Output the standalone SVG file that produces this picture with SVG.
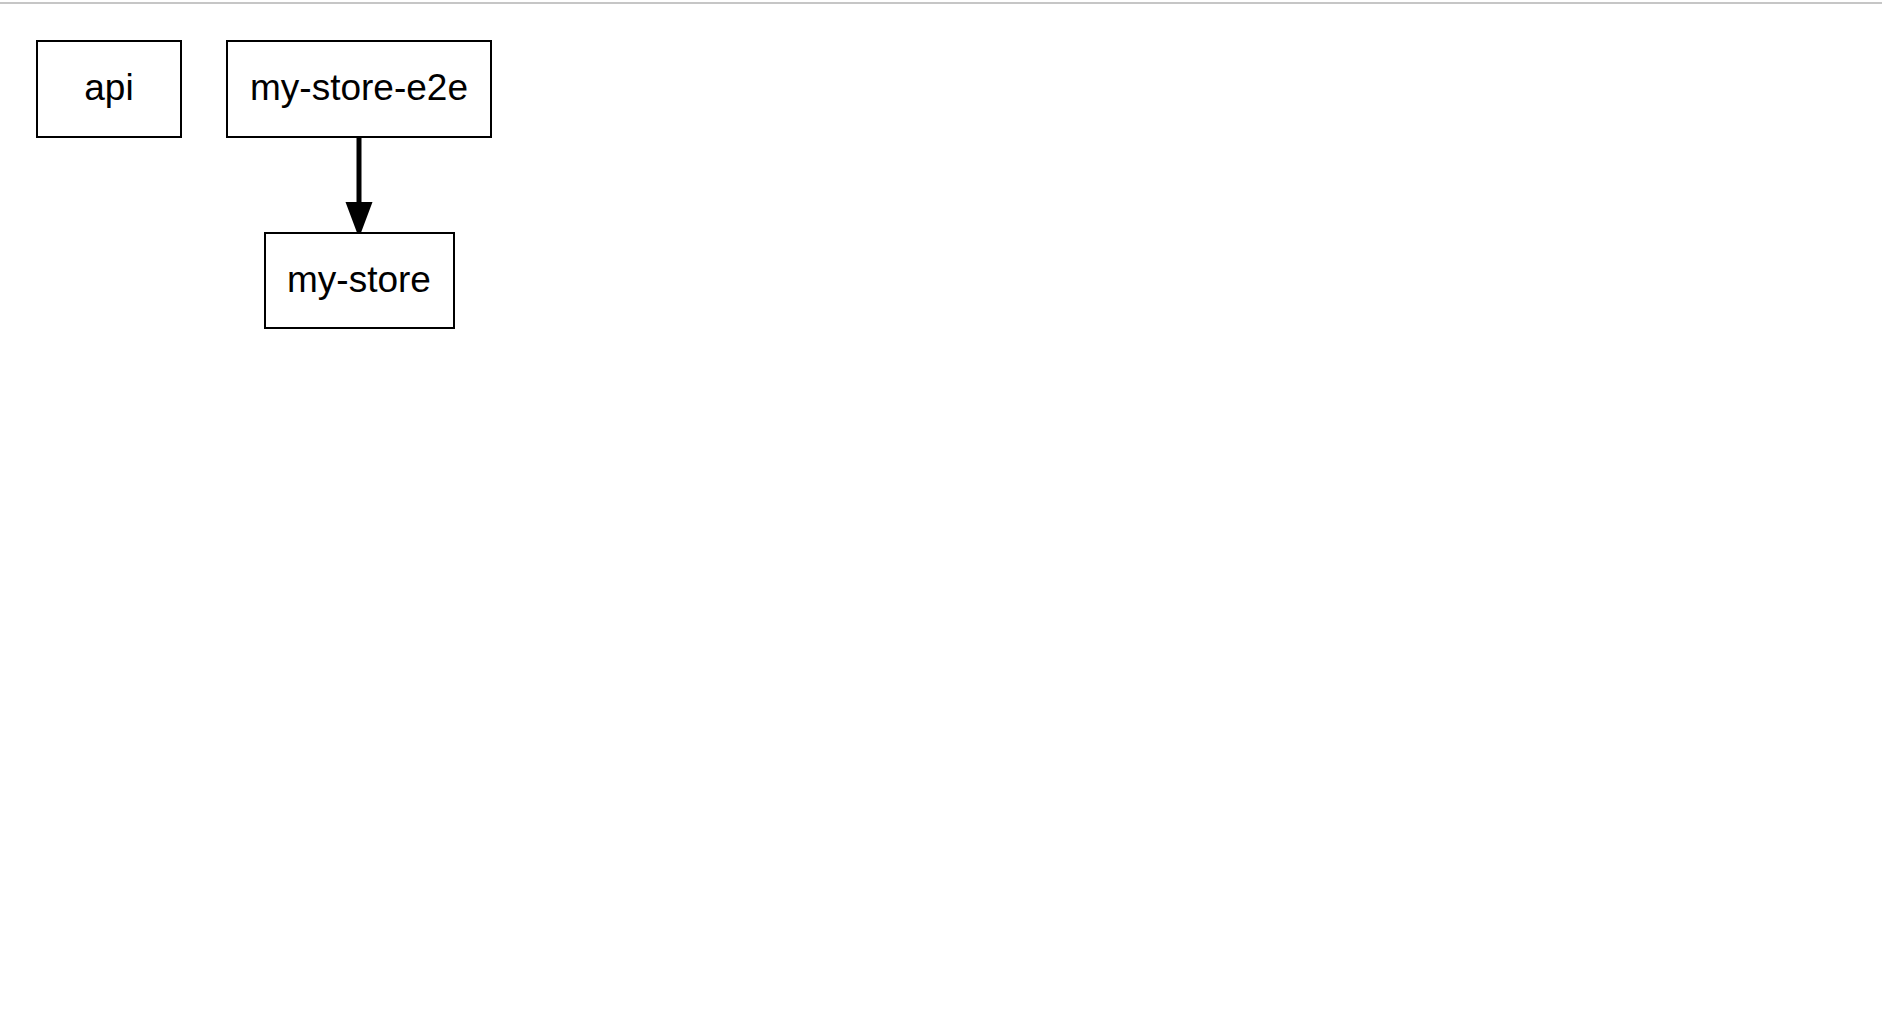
<svg xmlns="http://www.w3.org/2000/svg" width="1882" height="1030" viewBox="0 0 1882 1030">
<style>
.node rect{fill:#fff;stroke:#000;stroke-width:2}
.node text{font-family:"Liberation Sans",Arial,sans-serif;font-size:37px;fill:#000;text-anchor:middle}
.edge{stroke:#000;stroke-width:5;fill:none}
</style>
<defs>
<marker id="arrow" markerUnits="userSpaceOnUse" markerWidth="28" markerHeight="36" refX="14" refY="36" orient="auto-start-reverse" viewBox="0 0 28 36">
<path d="M1,0 L27,0 L14,36 Z" fill="#000"/>
</marker>
</defs>
<rect width="1882" height="1030" fill="#fff"/>
<line x1="0" y1="3" x2="1882" y2="3" stroke="#b3b3b3" stroke-width="1.5"/>
<g id="connectors">
<path class="edge" d="M359,138 L359,206"/>
<path d="M345.5,202 L372.5,202 L359,238 Z" fill="#000"/>
</g>
<g id="node-api" class="node">
<rect x="37" y="41" width="144" height="96"/>
<text x="109" y="100">api</text>
</g>
<g id="node-my-store-e2e" class="node">
<rect x="227" y="41" width="264" height="96"/>
<text x="359" y="100">my-store-e2e</text>
</g>
<g id="node-my-store" class="node">
<rect x="265" y="233" width="189" height="95"/>
<text x="359" y="292">my-store</text>
</g>
</svg>
